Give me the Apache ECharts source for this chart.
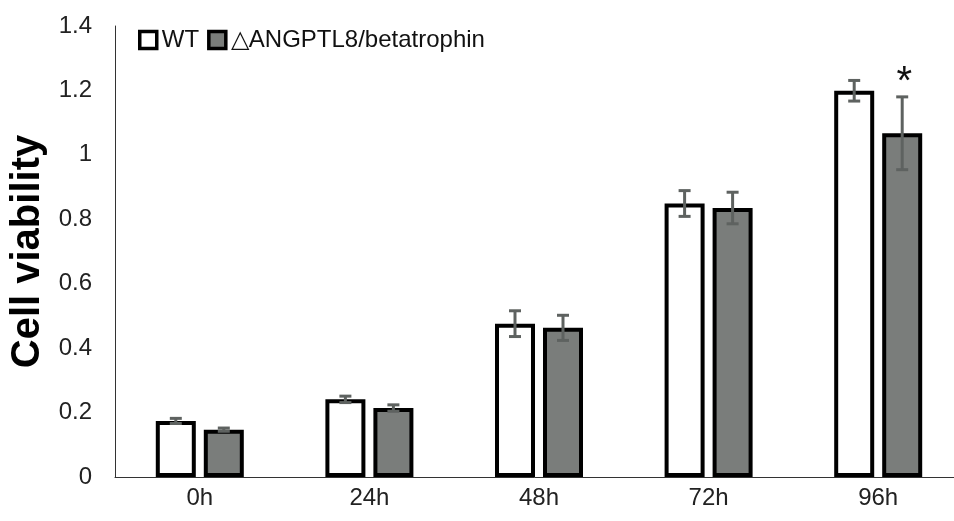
<!DOCTYPE html>
<html>
<head>
<meta charset="utf-8">
<script src="https://cdn.jsdelivr.net/npm/echarts@6/dist/echarts.min.js"></script>
<style>
  html, body { margin: 0; padding: 0; background: #fff; }
  #chart { width: 954px; height: 521px; }
</style>
</head>
<body>
<div id="chart"></div>
<script>
var categories = ['0h', '24h', '48h', '72h', '96h']
var wtValues = [0.174, 0.241, 0.476, 0.849, 1.199]
var wtErrors = [0.008, 0.01, 0.04, 0.04, 0.032]
var koValues = [0.147, 0.214, 0.463, 0.835, 1.067]
var koErrors = [0.005, 0.01, 0.039, 0.049, 0.113]
var koMarks = ['', '', '', '', '*']
var yTicks = [0, 0.2, 0.4, 0.6, 0.8, 1, 1.2, 1.4]

var FONT = '"Liberation Sans", Arial, sans-serif'
var BAR_OFFSET = 24

var chart = echarts.init(document.getElementById('chart'), null, {renderer: 'canvas'})

// error bar drawing, shifted left (WT) or right (KO) of the category center
var errorSeries = (name, values, errors, shift, marks) => {
  let data = values.map((v, i) => [i, v, errors[i], marks ? marks[i] : ''])
  return {
    name: name + '_err',
    type: 'custom',
    z: 5,
    silent: true,
    renderItem: (params, api) => {
      let idx = api.value(0)
      let v = api.value(1)
      let e = api.value(2)
      let top = api.coord([idx, v + e])
      let bottom = api.coord([idx, v - e])
      let x = top[0] + shift
      let cap = 6
      let style = {stroke: '#5e6260', lineWidth: 3}
      let children = [
        {type: 'line', shape: {x1: x, y1: top[1], x2: x, y2: bottom[1]}, style: style},
        {type: 'line', shape: {x1: x - cap, y1: top[1], x2: x + cap, y2: top[1]}, style: style},
        {type: 'line', shape: {x1: x - cap, y1: bottom[1], x2: x + cap, y2: bottom[1]}, style: style}
      ]
      let mark = data[params.dataIndex][3]
      if (mark) {
        children.push({
          type: 'text',
          style: {
            text: mark,
            x: x + 2,
            y: top[1] + 6,
            textAlign: 'center',
            textVerticalAlign: 'bottom',
            fontSize: 40,
            fontFamily: FONT,
            fill: '#111'
          }
        })
      }
      return {type: 'group', children: children}
    },
    data: data
  }
}

var option = {
  animation: false,
  backgroundColor: '#fff',
  legend: {
    left: 133,
    top: 23,
    icon: 'rect',
    itemWidth: 17,
    itemHeight: 17,
    itemGap: 8,
    textStyle: {fontSize: 24, fontFamily: FONT, color: '#111'},
    data: [
      {name: 'WT', itemStyle: {color: '#fff', borderColor: '#000', borderWidth: 3.5}},
      {name: '△ANGPTL8/betatrophin', itemStyle: {color: '#7a7d7b', borderColor: '#000', borderWidth: 3.5}}
    ]
  },
  grid: {
    left: 115,
    right: -9,
    top: 26,
    bottom: 44,
    containLabel: false,
    outerBoundsMode: 'none'
  },
  xAxis: {
    type: 'category',
    data: categories,
    axisTick: {show: false},
    axisLine: {lineStyle: {color: '#333', width: 1}},
    axisLabel: {fontSize: 24, fontFamily: FONT, color: '#222', margin: 9}
  },
  yAxis: {
    type: 'value',
    min: yTicks[0],
    max: yTicks[yTicks.length - 1],
    interval: 0.2,
    name: 'Cell viability',
    nameLocation: 'middle',
    nameGap: 64,
    nameTextStyle: {fontSize: 40, fontWeight: 'bold', fontFamily: FONT, color: '#000'},
    splitLine: {show: false},
    axisTick: {show: false},
    axisLine: {show: true, lineStyle: {color: '#333', width: 1}},
    axisLabel: {
      fontSize: 24,
      fontFamily: FONT,
      color: '#222',
      margin: 23,
      formatter: (val) => String(Math.round(val * 10) / 10)
    }
  },
  series: [
    {
      name: 'WT',
      type: 'bar',
      barWidth: 40,
      barGap: '20%',
      itemStyle: {color: '#fff', borderColor: '#000', borderWidth: 4},
      data: wtValues
    },
    {
      name: '△ANGPTL8/betatrophin',
      type: 'bar',
      barWidth: 40,
      barGap: '20%',
      itemStyle: {color: '#7a7d7b', borderColor: '#000', borderWidth: 4},
      data: koValues
    },
    errorSeries('WT', wtValues, wtErrors, -BAR_OFFSET),
    errorSeries('KO', koValues, koErrors, BAR_OFFSET, koMarks)
  ]
}

chart.setOption(option)
</script>
</body>
</html>
